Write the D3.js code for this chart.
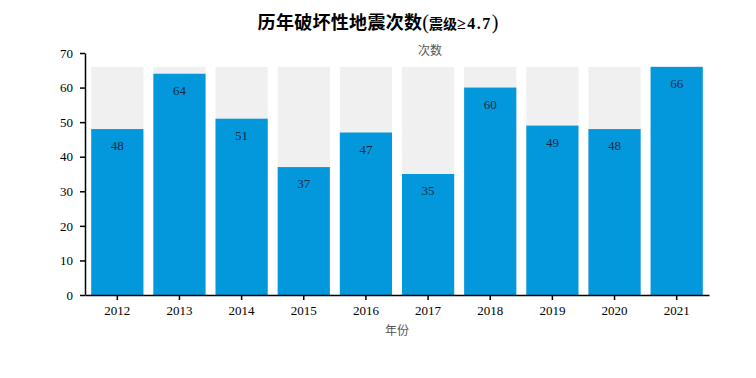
<!DOCTYPE html>
<html><head><meta charset="utf-8">
<script src="https://cdn.jsdelivr.net/npm/d3@7"></script>
<style>body{margin:0;background:#fff}</style>
</head><body>
<svg id="c" width="756" height="378"></svg>
<script>
const years = ["2012","2013","2014","2015","2016","2017","2018","2019","2020","2021"];
const counts = [48,64,51,37,47,35,60,49,48,66];
const yTicks = [0,10,20,30,40,50,60,70];

const svg = d3.select("#c");
const m = {l:85, r:709, t:53, b:295};
const serif = "'Liberation Serif','DejaVu Serif','Noto Sans CJK SC',serif";
const x = d3.scaleBand().domain(years).range([m.l, m.r]).paddingInner(0.16).paddingOuter(0.1);
const y = d3.scaleLinear().domain([0,70]).range([m.b, m.t]);
const maxV = d3.max(counts);

svg.append("g").selectAll("rect").data(years).join("rect")
  .attr("x", d=>x(d)).attr("width", x.bandwidth())
  .attr("y", y(maxV)).attr("height", y(0)-y(maxV)).attr("fill","#f0f0f0");
svg.append("g").selectAll("rect").data(counts).join("rect")
  .attr("x",(d,i)=>x(years[i])).attr("width", x.bandwidth())
  .attr("y", d=>y(d)).attr("height", d=>y(0)-y(d)).attr("fill","#0398db");
svg.append("g").selectAll("text").data(counts).join("text")
  .attr("x",(d,i)=>x(years[i])+x.bandwidth()/2).attr("y", d=>y(d)+21)
  .attr("text-anchor","middle").attr("font-family",serif).attr("font-size",13)
  .attr("fill","#1a2a44").text(d=>d);

const ya = svg.append("g").attr("transform",`translate(${m.l},0)`)
  .call(d3.axisLeft(y).tickValues(yTicks).tickSize(5).tickSizeOuter(0));
ya.select(".domain").attr("stroke","#000").attr("stroke-width",1.5);
ya.selectAll("line").attr("stroke","#000").attr("stroke-width",1.5);
ya.selectAll("text").attr("font-family",serif).attr("font-size",13).attr("fill","#000").attr("dx",-4);

const xa = svg.append("g").attr("transform",`translate(0,${m.b})`)
  .call(d3.axisBottom(x).tickSize(5).tickSizeOuter(0));
xa.select(".domain").attr("stroke","#000").attr("stroke-width",1.5);
xa.selectAll("line").attr("stroke","#000").attr("stroke-width",1.5);
xa.selectAll("text").attr("font-family",serif).attr("font-size",13).attr("fill","#000").attr("dy","0.9em");

svg.append("text").attr("x",430).attr("y",55).attr("text-anchor","middle")
  .attr("font-family",serif).attr("font-size",12).attr("fill","#555").text("次数");
svg.append("text").attr("x",397).attr("y",335).attr("text-anchor","middle")
  .attr("font-family",serif).attr("font-size",12).attr("fill","#555").text("年份");

const t = svg.append("text").attr("x",378).attr("y",29).attr("text-anchor","middle")
  .attr("font-family",serif).attr("font-weight","bold").attr("fill","#000");
t.append("tspan").attr("font-size",18).attr("letter-spacing",0.3).text("历年破坏性地震次数");
t.append("tspan").attr("font-size",20).attr("font-weight","normal").text("(");
t.append("tspan").attr("font-size",14).text("震级");
t.append("tspan").attr("font-size",16).attr("letter-spacing",1.5).text("≥4.7");
t.append("tspan").attr("font-size",20).attr("font-weight","normal").text(")");
</script>
</body></html>
